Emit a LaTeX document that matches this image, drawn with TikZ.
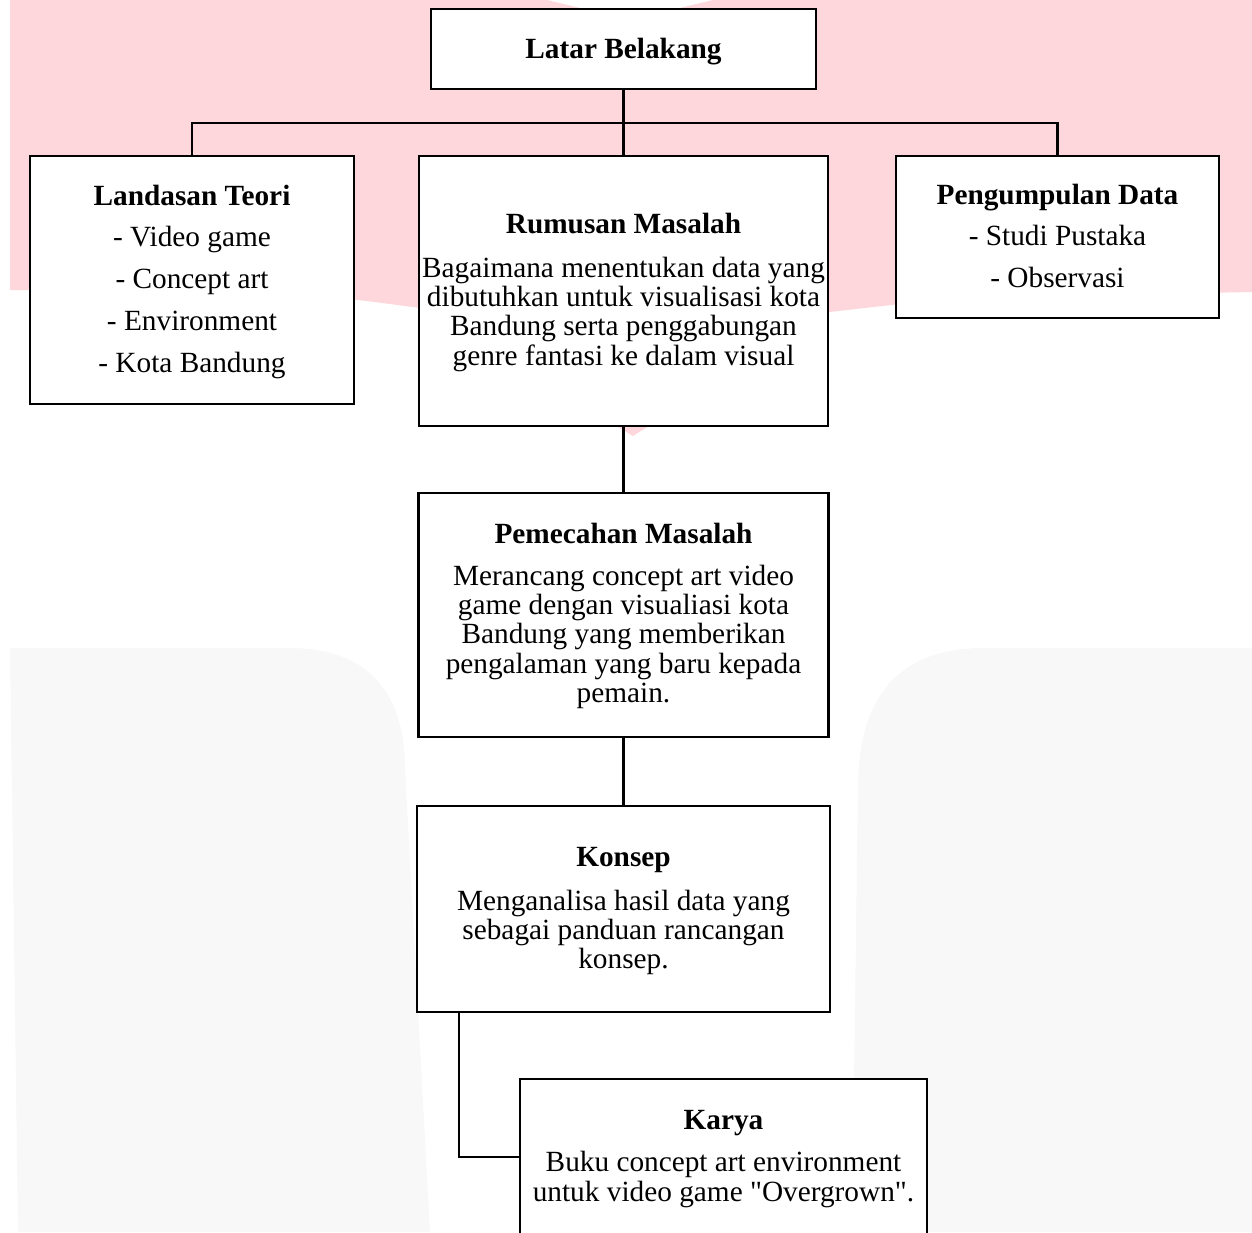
\documentclass[tikz,border=0pt]{standalone}
\usepackage{fontspec}
\setmainfont{Liberation Serif}[Ligatures=TeXOff]
\definecolor{wmpink}{RGB}{253,215,219}
\definecolor{wmgrey}{RGB}{248,248,248}
\begin{document}
\begin{tikzpicture}[x=1pt,y=-1pt,
  box/.style={rectangle, draw=black, line width=2.8pt, fill=white, inner sep=0pt, outer sep=0pt},
  conn/.style={draw=black, line width=2.6pt},
  txt/.style={anchor=base, inner sep=0pt, outer sep=0pt, font=\fontsize{29.3pt}{29.4pt}\selectfont},
  wide/.style={font=\fontsize{29.3pt}{41.8pt}\selectfont}]
\useasboundingbox (0,0) rectangle (1252,1232);
% watermark background
\fill[wmpink] (10,0) -- (547,0) -- (630,20) -- (713,0) -- (1252,0) -- (1252,292)
  .. controls (950,298) .. (830,312) -- (633,436) -- (420,308)
  .. controls (300,292) .. (10,290) -- cycle;
\fill[wmgrey] (10,648) -- (293,648) .. controls (390,650) and (405,720) .. (405,769)
  -- (430,1232) -- (18,1232) -- cycle;
\fill[wmgrey] (1252,648) -- (980,648) .. controls (880,650) and (860,720) .. (858,781)
  -- (852,1232) -- (1252,1232) -- cycle;
% boxes
\node[box, minimum width=385pt, minimum height=80pt] (latar) at (623.5,49) {};
\node[box, minimum width=324pt, minimum height=248pt] (landasan) at (192,280) {};
\node[box, minimum width=409pt, minimum height=270pt] (rumusan) at (623.5,291) {};
\node[box, minimum width=323pt, minimum height=162pt] (pengumpulan) at (1057.5,237) {};
\node[box, minimum width=410pt, minimum height=244pt] (pemecahan) at (623.5,615) {};
\node[box, minimum width=413pt, minimum height=206pt] (konsep) at (623.5,909) {};
\node[box, minimum width=407pt, minimum height=181pt] (karya) at (723.5,1169.5) {};
% connectors
\coordinate (bus) at (623.5,123);
\coordinate (kturn) at (459,1157);
\draw[conn] (latar.south) -- (rumusan.north);
\draw[conn] (landasan.north) |- (bus) -| (pengumpulan.north);
\draw[conn] (rumusan.south) -- (pemecahan.north);
\draw[conn] (pemecahan.south) -- (konsep.north);
\draw[conn] (konsep.south -| kturn) -- (kturn) -- (karya.west |- kturn);
% texts
\node[txt] (latarT) at (623.5,58) {\bfseries Latar Belakang};
\node[txt, wide] (landasanT) at (192,205) {\begin{tabular}[t]{@{}c@{}}\textbf{Landasan Teori}\\- Video game\\- Concept art\\- Environment\\- Kota Bandung\end{tabular}};
\node[txt, wide] (pengumpulanT) at (1057.5,204) {\begin{tabular}[t]{@{}c@{}}\textbf{Pengumpulan Data}\\- Studi Pustaka\\- Observasi\end{tabular}};
\node[txt] (rumusanT) at (623.5,233) {\begin{tabular}[t]{@{}c@{}}\textbf{Rumusan Masalah}\\[14.6pt]Bagaimana menentukan data yang\\dibutuhkan untuk visualisasi kota\\Bandung serta penggabungan\\genre fantasi ke dalam visual\end{tabular}};
\node[txt] (pemecahanT) at (623.5,543.3) {\begin{tabular}[t]{@{}c@{}}\textbf{Pemecahan Masalah}\\[12.4pt]Merancang concept art video\\game dengan visualiasi kota\\Bandung yang memberikan\\pengalaman yang baru kepada\\pemain.\end{tabular}};
\node[txt] (konsepT) at (623.5,866) {\begin{tabular}[t]{@{}c@{}}\textbf{Konsep}\\[14.6pt]Menganalisa hasil data yang\\sebagai panduan rancangan\\konsep.\end{tabular}};
\node[txt] (karyaT) at (723.5,1129) {\begin{tabular}[t]{@{}c@{}}\textbf{Karya}\\[13.3pt]Buku concept art environment\\untuk video game "Overgrown".\end{tabular}};
\end{tikzpicture}
\end{document}
